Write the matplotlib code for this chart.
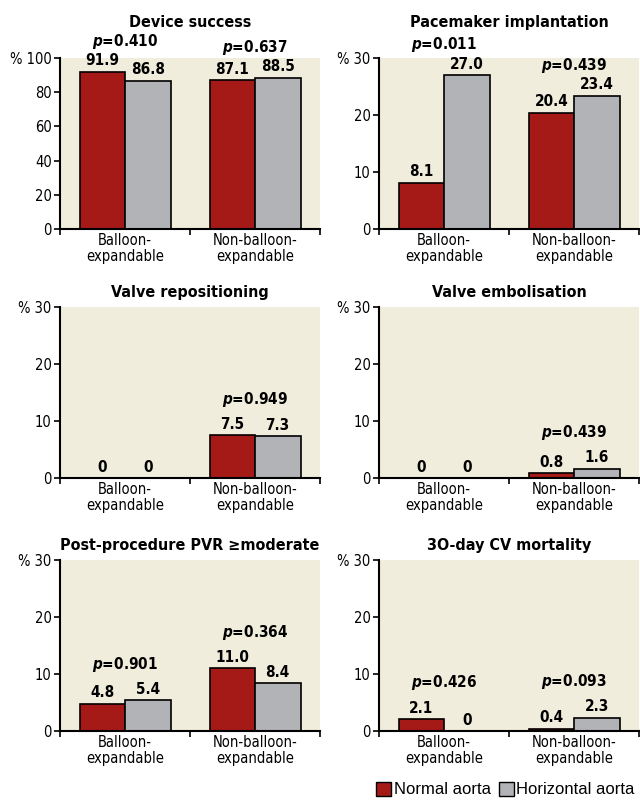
import matplotlib
matplotlib.use("Agg")
import matplotlib.pyplot as plt
from matplotlib import font_manager
from matplotlib.patches import Patch

# pick a narrow/condensed face if one is installed
cond = None
for f in font_manager.fontManager.ttflist:
    n = f.name.lower()
    if "narrow" in n or "condensed" in n or f.stretch in ("condensed", "semi-condensed"):
        cond = (f.name, f.stretch)
        break
fam = cond[0] if cond else "DejaVu Sans"
stretch = cond[1] if cond else "normal"

plt.rcParams['font.family'] = [fam, 'DejaVu Sans']
plt.rcParams['font.stretch'] = stretch
plt.rcParams['mathtext.fontset'] = 'custom'
plt.rcParams['mathtext.it'] = fam + ':italic:bold'
plt.rcParams['mathtext.rm'] = fam + ':bold'

# data
groups = ["Balloon-\nexpandable", "Non-balloon-\nexpandable"]
titles = ["Device success", "Pacemaker implantation", "Valve repositioning",
          "Valve embolisation", "Post-procedure PVR \u2265moderate", "3O-day CV mortality"]
ymax = [100, 30, 30, 30, 30, 30]
normal = [[91.9, 87.1], [8.1, 20.4], [0, 7.5], [0, 0.8], [4.8, 11.0], [2.1, 0.4]]
horizontal = [[86.8, 88.5], [27.0, 23.4], [0, 7.3], [0, 1.6], [5.4, 8.4], [0, 2.3]]
normal_lbl = [["91.9", "87.1"], ["8.1", "20.4"], ["0", "7.5"], ["0", "0.8"], ["4.8", "11.0"], ["2.1", "0.4"]]
horiz_lbl = [["86.8", "88.5"], ["27.0", "23.4"], ["0", "7.3"], ["0", "1.6"], ["5.4", "8.4"], ["0", "2.3"]]
pvals = [["0.410", "0.637"], ["0.011", "0.439"], [None, "0.949"], [None, "0.439"],
         ["0.901", "0.364"], ["0.426", "0.093"]]

red = "#a51916"
grey = "#b1b3b6"
bg = "#f1eddc"

fig = plt.figure(figsize=(6.4, 8.01), dpi=100)

W, H = 640, 801
col_x = [60, 379]
row_top = [58, 307, 560]
ax_w, ax_h = 260, 171

bw = 0.35
for i in range(6):
    r, c = divmod(i, 2)
    ax = fig.add_axes([col_x[c] / W, 1 - (row_top[r] + ax_h) / H, ax_w / W, ax_h / H])
    ax.set_facecolor(bg)
    xs = [0, 1]
    b1 = ax.bar([x - bw / 2 for x in xs], normal[i], bw, color=red, edgecolor="black", linewidth=1.2)
    b2 = ax.bar([x + bw / 2 for x in xs], horizontal[i], bw, color=grey, edgecolor="black", linewidth=1.2)
    for bars, labels in ((b1, normal_lbl[i]), (b2, horiz_lbl[i])):
        for b, t in zip(bars, labels):
            ax.annotate(t, (b.get_x() + b.get_width() / 2, b.get_height()),
                        xytext=(0, 2.5), textcoords="offset points",
                        ha="center", va="bottom", fontsize=11, fontweight="bold")
    for g in range(2):
        if pvals[i][g] is None:
            continue
        top = max(normal[i][g], horizontal[i][g])
        ax.annotate("$p$=" + pvals[i][g], (g, top), xytext=(0, 22 if r == 0 else 26),
                    textcoords="offset points", ha="center", va="center",
                    fontsize=11, fontweight="bold", annotation_clip=False)
    ax.set_xlim(-0.5, 1.5)
    ax.set_ylim(0, ymax[i])
    step = 20 if ymax[i] == 100 else 10
    yt = list(range(0, ymax[i] + 1, step))
    ax.set_yticks(yt)
    ax.set_yticklabels([("% " + str(v)) if v == ymax[i] else str(v) for v in yt], fontsize=10.5)
    ax.set_xticks([-0.5, 0.5, 1.5])
    ax.set_xticklabels([])
    ax.set_xticks(xs, minor=True)
    ax.set_xticklabels(groups, minor=True, fontsize=10.5, linespacing=1.1)
    ax.tick_params(axis="x", which="minor", length=0, pad=3)
    ax.tick_params(axis="both", which="major", direction="out", length=4, width=1.2, pad=2)
    for s in ("top", "right"):
        ax.spines[s].set_visible(False)
    for s in ("left", "bottom"):
        ax.spines[s].set_linewidth(1.5)
    ax.set_title(titles[i], fontsize=11.5, fontweight="bold", pad=22 if r == 0 else 7)

handles = [Patch(facecolor=red, edgecolor="black", label="Normal aorta"),
           Patch(facecolor=grey, edgecolor="black", label="Horizontal aorta")]
fig.legend(handles=handles, loc="lower right", bbox_to_anchor=(1.005, -0.006), ncol=2,
           frameon=False, handlelength=0.9, handleheight=0.9, handletextpad=0.15,
           columnspacing=0.5, borderaxespad=0.1, prop={"family": "Liberation Sans", "size": 12})

fig.savefig("out.png", dpi=100)
